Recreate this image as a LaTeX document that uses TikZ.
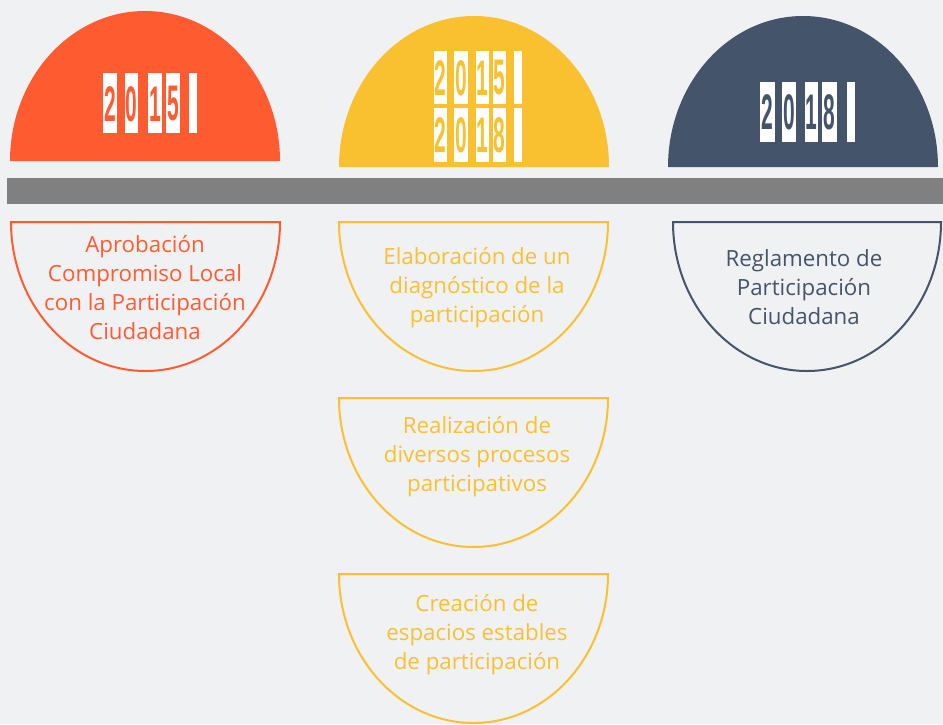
\documentclass[tikz,border=0pt]{standalone}
\usepackage{fontspec}
\setmainfont{Open Sans}
\newfontfamily\digitfont{Liberation Sans}
\definecolor{bgc}{HTML}{F0F1F3}
\definecolor{orangec}{HTML}{FF5B31}
\definecolor{yellowc}{HTML}{F9C02F}
\definecolor{darkc}{HTML}{44546A}
\definecolor{barc}{HTML}{808080}
\tikzset{
  yeardigit/.style={font=\digitfont\bfseries\fontsize{50}{50}\selectfont, inner sep=0pt, xscale=0.42},
  digitbg/.style={fill=white},
  lbl/.style={font=\fontsize{22.3}{29}\selectfont, align=center, inner sep=0pt},
  halfline/.style={line width=2pt, fill=none}
}
\begin{document}
\begin{tikzpicture}[x=1pt,y=-1pt]
\fill[bgc] (0,0) rectangle (943,724);
\useasboundingbox (0,0) rectangle (943,724);
% top half discs
\fill[orangec] (10,161) arc[start angle=180,end angle=360,x radius=135,y radius=150];
\fill[yellowc] (339,167) arc[start angle=180,end angle=360,x radius=135,y radius=151];
\fill[darkc] (668,167) arc[start angle=180,end angle=360,x radius=135,y radius=151];
% timeline bar
\fill[barc] (7,178) rectangle (943,204);
% lower outlined half discs
\draw[halfline, orangec] (11,222) -- (280,222) arc[start angle=0,end angle=180,x radius=134.5,y radius=149] -- cycle;
\draw[halfline, yellowc] (339,222) -- (608,222) arc[start angle=0,end angle=180,x radius=134.5,y radius=149] -- cycle;
\draw[halfline, yellowc] (339,398) -- (608,398) arc[start angle=0,end angle=180,x radius=134.5,y radius=149] -- cycle;
\draw[halfline, yellowc] (339,574) -- (608,574) arc[start angle=0,end angle=180,x radius=134.5,y radius=149] -- cycle;
\draw[halfline, darkc] (673,222) -- (941,222) arc[start angle=0,end angle=180,x radius=134,y radius=149] -- cycle;
% year counters
\foreach \a/\b/\d [count=\i] in {103/117/2,125/138/0,148/162/1,166/180/5,189/197/{}} {
  \fill[digitbg] (\a,73) rectangle (\b,133);
  \node[yeardigit, text=orangec] (ya\i) at ({(\a+\b)/2},104) {\d};
}
\foreach \a/\b/\d [count=\i] in {434/447/2,454/468/0,476/489/1,493/506/5,514/522/{}} {
  \fill[digitbg] (\a,51) rectangle (\b,104);
  \node[yeardigit, text=yellowc] (yb\i) at ({(\a+\b)/2},78) {\d};
}
\foreach \a/\b/\d [count=\i] in {434/447/2,454/468/0,476/489/1,493/506/8,514/522/{}} {
  \fill[digitbg] (\a,108) rectangle (\b,162);
  \node[yeardigit, text=yellowc] (yc\i) at ({(\a+\b)/2},135.5) {\d};
}
\foreach \a/\b/\d [count=\i] in {760/775/2,782/796/0,805/818/1,822/837/8,847/855/{}} {
  \fill[digitbg] (\a,82) rectangle (\b,142);
  \node[yeardigit, text=darkc] (yd\i) at ({(\a+\b)/2},112.5) {\d};
}
% labels
\node[lbl, text=orangec] (t1) at (145,288) {Aprobación\\Compromiso Local\\con la Participación\\Ciudadana};
\node[lbl, text=yellowc] (t2) at (477,288) {Elaboración de un\\diagnóstico de la\\participación};
\node[lbl, text=yellowc] (t3) at (477,457) {Realización de\\diversos procesos\\participativos};
\node[lbl, text=yellowc] (t4) at (477,635) {Creación de\\espacios estables\\de participación};
\node[lbl, text=darkc] (t5) at (804,287) {Reglamento de\\Participación\\Ciudadana};
\end{tikzpicture}
\end{document}
